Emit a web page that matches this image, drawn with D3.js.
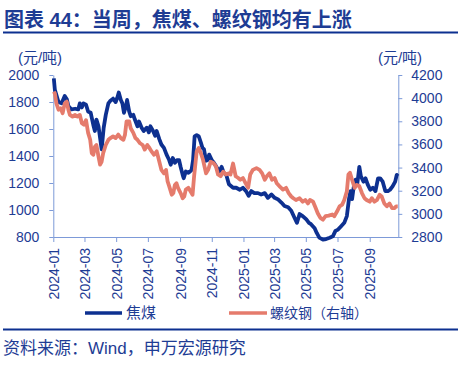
<!DOCTYPE html>
<html><head><meta charset="utf-8">
<script src="https://cdn.jsdelivr.net/npm/d3@7"></script>
<style>
body{margin:0;background:#fff;}
svg text{font-family:"Liberation Sans","Noto Sans CJK SC",sans-serif;}
</style></head>
<body><svg id="c" width="458" height="368"></svg>
<script>
const title = "图表 44：当周，焦煤、螺纹钢均有上涨";
const source = "资料来源：Wind，申万宏源研究";
const seriesNames = ["焦煤", "螺纹钢（右轴）"];
const unitLabel = "(元/吨)";
const leftTicks = [800,1000,1200,1400,1600,1800,2000];
const rightTicks = [2800,3000,3200,3400,3600,3800,4000,4200];
const xTickDates = ["2024-01","2024-03","2024-05","2024-07","2024-09","2024-11","2025-01","2025-03","2025-05","2025-07","2025-09"];

const cokingDates = ["2024-01-02","2024-01-04","2024-01-11","2024-01-17","2024-01-23","2024-01-27","2024-01-30","2024-02-05","2024-02-12","2024-02-18","2024-02-21","2024-02-25","2024-02-28","2024-03-04","2024-03-08","2024-03-13","2024-03-18","2024-03-21","2024-03-24","2024-03-28","2024-03-31","2024-04-03","2024-04-07","2024-04-11","2024-04-16","2024-04-20","2024-04-25","2024-04-30","2024-05-03","2024-05-06","2024-05-10","2024-05-13","2024-05-16","2024-05-20","2024-05-22","2024-05-26","2024-05-29","2024-06-03","2024-06-06","2024-06-11","2024-06-14","2024-06-19","2024-06-23","2024-06-29","2024-07-03","2024-07-06","2024-07-11","2024-07-15","2024-07-18","2024-07-23","2024-07-27","2024-08-01","2024-08-06","2024-08-11","2024-08-14","2024-08-18","2024-08-22","2024-08-26","2024-08-30","2024-09-02","2024-09-06","2024-09-08","2024-09-12","2024-09-17","2024-09-20","2024-09-23","2024-09-26","2024-09-29","2024-10-03","2024-10-07","2024-10-11","2024-10-14","2024-10-17","2024-10-21","2024-10-24","2024-10-27","2024-11-01","2024-11-05","2024-11-10","2024-11-15","2024-11-20","2024-11-24","2024-11-29","2024-12-04","2024-12-12","2024-12-18","2024-12-25","2024-12-31","2025-01-06","2025-01-11","2025-01-16","2025-01-22","2025-01-29","2025-02-04","2025-02-11","2025-02-17","2025-02-24","2025-03-02","2025-03-08","2025-03-15","2025-03-21","2025-03-28","2025-04-03","2025-04-09","2025-04-14","2025-04-19","2025-04-25","2025-05-02","2025-05-07","2025-05-11","2025-05-18","2025-05-22","2025-05-27","2025-06-03","2025-06-09","2025-06-16","2025-06-22","2025-06-27","2025-07-02","2025-07-08","2025-07-14","2025-07-19","2025-07-23","2025-07-26","2025-07-29","2025-08-01","2025-08-05","2025-08-08","2025-08-12","2025-08-15","2025-08-20","2025-08-24","2025-08-28","2025-09-02","2025-09-07","2025-09-12","2025-09-17","2025-09-21","2025-09-26","2025-10-01","2025-10-06","2025-10-10","2025-10-15","2025-10-20","2025-10-23","2025-10-25"];
const cokingValues = [1975,1890,1800,1790,1845,1820,1770,1745,1750,1745,1790,1760,1790,1780,1730,1720,1630,1585,1670,1620,1535,1450,1610,1705,1790,1810,1825,1800,1830,1870,1815,1790,1720,1770,1815,1730,1695,1705,1670,1620,1655,1610,1585,1610,1575,1620,1585,1550,1585,1525,1485,1460,1410,1370,1335,1385,1350,1370,1370,1320,1260,1235,1285,1275,1285,1295,1370,1545,1555,1545,1500,1460,1450,1365,1370,1410,1370,1350,1320,1285,1320,1275,1260,1190,1165,1165,1150,1165,1140,1105,1140,1125,1125,1115,1125,1090,1115,1090,1080,1055,1030,1020,995,945,905,970,955,930,905,895,865,830,795,780,785,795,805,845,855,880,905,955,1080,1140,1080,1165,1225,1190,1320,1250,1210,1235,1190,1150,1165,1140,1235,1235,1210,1140,1140,1150,1175,1210,1260,1250];

const rebarDates = ["2024-01-02","2024-01-04","2024-01-07","2024-01-11","2024-01-15","2024-01-19","2024-01-23","2024-01-27","2024-01-30","2024-02-02","2024-02-07","2024-02-12","2024-02-16","2024-02-21","2024-02-25","2024-02-29","2024-03-04","2024-03-08","2024-03-12","2024-03-15","2024-03-18","2024-03-21","2024-03-24","2024-03-28","2024-03-31","2024-04-03","2024-04-06","2024-04-11","2024-04-16","2024-04-20","2024-04-25","2024-04-30","2024-05-05","2024-05-10","2024-05-15","2024-05-18","2024-05-21","2024-05-26","2024-05-29","2024-06-03","2024-06-07","2024-06-11","2024-06-16","2024-06-21","2024-06-25","2024-06-30","2024-07-04","2024-07-08","2024-07-13","2024-07-18","2024-07-22","2024-07-27","2024-08-01","2024-08-05","2024-08-08","2024-08-11","2024-08-16","2024-08-19","2024-08-22","2024-08-25","2024-08-28","2024-09-02","2024-09-06","2024-09-09","2024-09-12","2024-09-17","2024-09-21","2024-09-25","2024-09-28","2024-10-03","2024-10-07","2024-10-11","2024-10-15","2024-10-21","2024-10-25","2024-10-30","2024-11-04","2024-11-09","2024-11-13","2024-11-18","2024-11-23","2024-11-28","2024-12-04","2024-12-07","2024-12-12","2024-12-17","2024-12-22","2024-12-26","2024-12-31","2025-01-05","2025-01-10","2025-01-14","2025-01-19","2025-01-26","2025-02-01","2025-02-06","2025-02-11","2025-02-15","2025-02-20","2025-02-25","2025-03-02","2025-03-06","2025-03-11","2025-03-18","2025-03-24","2025-03-29","2025-04-03","2025-04-07","2025-04-12","2025-04-19","2025-04-25","2025-04-30","2025-05-05","2025-05-09","2025-05-15","2025-05-20","2025-05-24","2025-05-29","2025-06-03","2025-06-08","2025-06-14","2025-06-21","2025-06-25","2025-06-30","2025-07-05","2025-07-10","2025-07-14","2025-07-19","2025-07-22","2025-07-25","2025-07-29","2025-08-03","2025-08-07","2025-08-12","2025-08-17","2025-08-22","2025-08-26","2025-09-01","2025-09-05","2025-09-10","2025-09-15","2025-09-20","2025-09-24","2025-09-29","2025-10-04","2025-10-09","2025-10-14","2025-10-19","2025-10-22","2025-10-25"];
const rebarValues = [4056,4040,3955,3900,3913,3870,3955,3970,3900,3855,3840,3855,3840,3855,3783,3770,3810,3700,3640,3525,3510,3580,3595,3495,3425,3450,3525,3595,3640,3655,3670,3655,3685,3655,3640,3685,3800,3800,3740,3700,3655,3640,3610,3595,3555,3595,3570,3540,3510,3540,3470,3380,3350,3380,3280,3240,3165,3180,3250,3265,3225,3180,3135,3150,3210,3225,3195,3165,3325,3540,3570,3525,3470,3350,3380,3450,3440,3410,3340,3325,3365,3340,3350,3340,3435,3325,3310,3295,3310,3265,3225,3340,3380,3395,3380,3350,3295,3325,3350,3295,3310,3265,3240,3210,3225,3180,3150,3135,3120,3135,3105,3120,3090,3120,3105,3050,3005,2965,2950,2980,2985,2995,2980,3020,3065,3080,3120,3195,3340,3355,3295,3225,3250,3240,3180,3135,3120,3105,3135,3105,3120,3165,3150,3090,3065,3090,3050,3050,3065,3065];

const navy = "#0d3090", salmon = "#e57b6c", axisCol = "#7d9ad8", textCol = "#1e3c94";
const parse = d3.timeParse("%Y-%m-%d"), parseM = d3.timeParse("%Y-%m");
const svg = d3.select("#c");
const L = 53.3, R = 398.3, T = 75, B = 237;

const x = d3.scaleTime().domain([parse("2024-01-01"), parse("2025-10-26")]).range([L, R]);
const yL = d3.scaleLinear().domain([800, 2000]).range([B, T]);
const yR = d3.scaleLinear().domain([2800, 4200]).range([B, T]);

svg.append("text").attr("x", 4).attr("y", 27).attr("fill", textCol)
  .attr("font-size", 20).attr("font-weight", "bold").text(title);
svg.append("rect").attr("x", 3).attr("y", 31.5).attr("width", 455).attr("height", 2).attr("fill", navy);

svg.append("text").attr("x", 40).attr("y", 63).attr("text-anchor", "middle").attr("fill", textCol).attr("font-size", 15).text(unitLabel);
svg.append("text").attr("x", 400).attr("y", 63).attr("text-anchor", "middle").attr("fill", textCol).attr("font-size", 15).text(unitLabel);

function styleAxis(g){
  g.selectAll("path,line").attr("stroke", axisCol).attr("stroke-width", 1);
  g.selectAll("text").attr("fill", textCol).attr("font-size", 14)
   .attr("font-family", "Liberation Sans, sans-serif");
}
const fmt = d3.format("d");
const gL = svg.append("g").attr("transform", `translate(${L},0)`)
  .call(d3.axisLeft(yL).tickValues(leftTicks).tickFormat(fmt).tickSize(4).tickPadding(10).tickSizeOuter(0));
styleAxis(gL);
const gR = svg.append("g").attr("transform", `translate(${R},0)`)
  .call(d3.axisRight(yR).tickValues(rightTicks).tickFormat(fmt).tickSize(4).tickPadding(9).tickSizeOuter(0));
styleAxis(gR);
const gX = svg.append("g").attr("transform", `translate(0,${B})`)
  .call(d3.axisBottom(x).tickValues(xTickDates.map(parseM)).tickFormat(d3.timeFormat("%Y-%m")).tickSize(5).tickSizeOuter(0));
styleAxis(gX);
gX.selectAll("text").attr("transform", "rotate(-90)").attr("text-anchor", "end")
  .attr("x", -11).attr("y", 0).attr("dy", "0.36em");

const cokingData = cokingDates.map((d, i) => ({d: parse(d), v: cokingValues[i]}));
const rebarData = rebarDates.map((d, i) => ({d: parse(d), v: rebarValues[i]}));
svg.append("path").datum(cokingData).attr("fill", "none").attr("stroke", navy)
  .attr("stroke-width", 3.8).attr("stroke-linejoin", "round")
  .attr("d", d3.line().x(p => x(p.d)).y(p => yL(p.v)));
svg.append("path").datum(rebarData).attr("fill", "none").attr("stroke", salmon)
  .attr("stroke-width", 3.8).attr("stroke-linejoin", "round")
  .attr("d", d3.line().x(p => x(p.d)).y(p => yR(p.v)));

const lg = svg.append("g");
lg.append("line").attr("x1", 85).attr("x2", 122).attr("y1", 313).attr("y2", 313).attr("stroke", navy).attr("stroke-width", 3.5);
lg.append("text").attr("x", 126).attr("y", 318).attr("fill", textCol).attr("font-size", 15).text(seriesNames[0]);
lg.append("line").attr("x1", 229).attr("x2", 267).attr("y1", 313).attr("y2", 313).attr("stroke", salmon).attr("stroke-width", 3.5);
lg.append("text").attr("x", 270).attr("y", 318).attr("fill", textCol).attr("font-size", 14).text(seriesNames[1]);

svg.append("rect").attr("x", 3).attr("y", 328.5).attr("width", 455).attr("height", 2).attr("fill", navy);
svg.append("text").attr("x", 3).attr("y", 354).attr("fill", textCol).attr("font-size", 17).text(source);
</script></body></html>
